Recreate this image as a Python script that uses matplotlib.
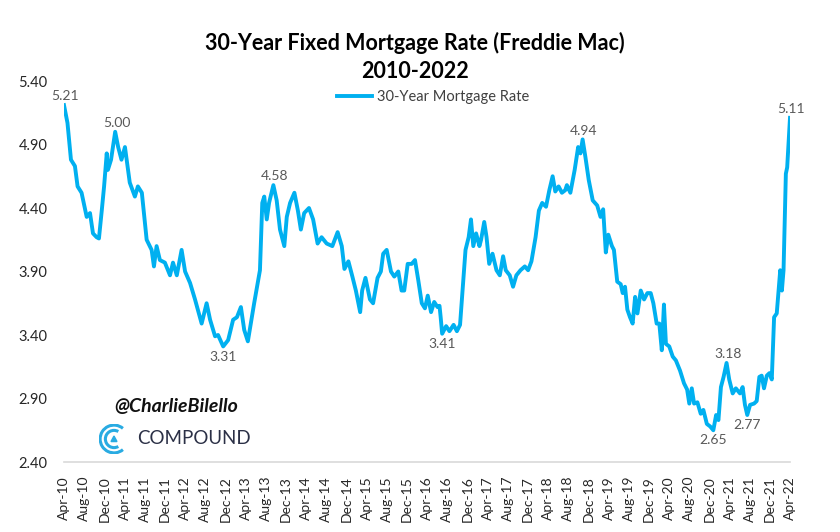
import matplotlib
matplotlib.use("Agg")
import matplotlib.pyplot as plt
import matplotlib.dates as mdates
from matplotlib.patches import Arc, Polygon
import pandas as pd

# weekly-ish readings of the Freddie Mac 30y fixed rate
dates = [
    "2010-04-01", "2010-04-22", "2010-05-13", "2010-06-06", "2010-06-22", "2010-07-16",
    "2010-08-16", "2010-09-05", "2010-09-23", "2010-10-15", "2010-10-29", "2010-11-15",
    "2010-11-29", "2010-12-15", "2010-12-22", "2011-01-10", "2011-02-04", "2011-02-22",
    "2011-03-14", "2011-04-04", "2011-05-03", "2011-06-03", "2011-06-21", "2011-07-15",
    "2011-08-13", "2011-09-12", "2011-09-26", "2011-10-12", "2011-11-01", "2011-12-01",
    "2012-01-01", "2012-01-19", "2012-02-11", "2012-03-11", "2012-04-01", "2012-05-01",
    "2012-05-31", "2012-07-10", "2012-08-09", "2012-08-30", "2012-09-29", "2012-10-17",
    "2012-11-17", "2012-12-17", "2013-01-16", "2013-02-08", "2013-03-04", "2013-03-24",
    "2013-04-15", "2013-05-23", "2013-06-27", "2013-07-11", "2013-07-23", "2013-08-07",
    "2013-08-21", "2013-09-16", "2013-10-06", "2013-10-26", "2013-11-21", "2013-12-06",
    "2013-12-26", "2014-01-21", "2014-02-11", "2014-03-01", "2014-03-21", "2014-04-19",
    "2014-05-14", "2014-06-10", "2014-07-04", "2014-08-04", "2014-09-07", "2014-10-09",
    "2014-11-03", "2014-11-19", "2014-12-13", "2015-01-06", "2015-01-27", "2015-02-22",
    "2015-03-06", "2015-03-26", "2015-04-22", "2015-05-11", "2015-06-07", "2015-06-27",
    "2015-07-11", "2015-08-01", "2015-08-27", "2015-09-16", "2015-10-10", "2015-10-30",
    "2015-11-15", "2015-12-06", "2015-12-30", "2016-01-19", "2016-02-08", "2016-02-29",
    "2016-03-19", "2016-04-05", "2016-04-25", "2016-05-14", "2016-06-03", "2016-06-15",
    "2016-06-22", "2016-07-01", "2016-07-25", "2016-08-14", "2016-09-08", "2016-09-28",
    "2016-10-17", "2016-11-03", "2016-11-19", "2016-12-08", "2016-12-22", "2017-01-05",
    "2017-01-22", "2017-02-11", "2017-02-21", "2017-03-12", "2017-03-26", "2017-04-11",
    "2017-05-01", "2017-05-25", "2017-06-14", "2017-07-04", "2017-07-20", "2017-08-13",
    "2017-09-02", "2017-09-22", "2017-10-17", "2017-11-12", "2017-12-02", "2017-12-22",
    "2018-01-16", "2018-02-05", "2018-02-25", "2018-03-20", "2018-04-09", "2018-04-29",
    "2018-05-15", "2018-06-04", "2018-06-24", "2018-07-14", "2018-07-24", "2018-08-14",
    "2018-09-09", "2018-09-30", "2018-10-14", "2018-10-27", "2018-11-13", "2018-12-03",
    "2018-12-27", "2019-01-23", "2019-02-12", "2019-02-28", "2019-03-16", "2019-03-31",
    "2019-04-22", "2019-05-04", "2019-05-24", "2019-06-14", "2019-06-26", "2019-07-10",
    "2019-07-24", "2019-08-09", "2019-08-25", "2019-09-09", "2019-09-23", "2019-10-13",
    "2019-11-02", "2019-11-22", "2019-12-12", "2019-12-28", "2020-01-17", "2020-02-02",
    "2020-02-17", "2020-03-01", "2020-03-13", "2020-04-02", "2020-04-23", "2020-05-12",
    "2020-06-06", "2020-06-30", "2020-07-19", "2020-08-01", "2020-08-16", "2020-08-30",
    "2020-09-19", "2020-10-09", "2020-10-25", "2020-11-15", "2020-12-05", "2020-12-24",
    "2021-01-10", "2021-01-24", "2021-02-08", "2021-02-24", "2021-03-14", "2021-03-30",
    "2021-04-20", "2021-05-09", "2021-06-03", "2021-06-19", "2021-07-03", "2021-07-17",
    "2021-08-03", "2021-08-27", "2021-09-12", "2021-09-28", "2021-10-12", "2021-10-26",
    "2021-11-12", "2021-11-28", "2021-12-12", "2021-12-26", "2022-01-11", "2022-02-01",
    "2022-02-11", "2022-02-21", "2022-03-07", "2022-03-15", "2022-04-01",
]
rates = [
    5.21, 5.07, 4.78, 4.73, 4.57, 4.52,
    4.33, 4.36, 4.20, 4.17, 4.16, 4.38,
    4.57, 4.83, 4.70, 4.78, 5.00, 4.88,
    4.78, 4.88, 4.60, 4.49, 4.57, 4.52,
    4.15, 4.07, 3.94, 4.10, 3.99, 3.97,
    3.87, 3.97, 3.87, 4.07, 3.90, 3.81,
    3.68, 3.49, 3.65, 3.52, 3.39, 3.40,
    3.31, 3.36, 3.52, 3.54, 3.62, 3.44,
    3.35, 3.65, 3.91, 4.44, 4.49, 4.31,
    4.44, 4.58, 4.46, 4.23, 4.10, 4.33,
    4.44, 4.52, 4.38, 4.23, 4.36, 4.40,
    4.31, 4.12, 4.17, 4.12, 4.10, 4.21,
    4.10, 3.92, 3.98, 3.86, 3.75, 3.58,
    3.75, 3.85, 3.68, 3.65, 3.85, 3.90,
    4.04, 4.07, 3.90, 3.86, 3.90, 3.75,
    3.75, 3.96, 3.96, 3.99, 3.83, 3.65,
    3.61, 3.71, 3.58, 3.66, 3.62, 3.63,
    3.54, 3.41, 3.47, 3.43, 3.48, 3.43,
    3.48, 3.78, 4.07, 4.17, 4.31, 4.10,
    4.20, 4.10, 4.15, 4.29, 4.17, 3.96,
    4.04, 3.91, 3.87, 4.02, 3.91, 3.87,
    3.78, 3.87, 3.91, 3.94, 3.91, 3.98,
    4.17, 4.38, 4.44, 4.41, 4.54, 4.65,
    4.53, 4.57, 4.52, 4.54, 4.58, 4.52,
    4.70, 4.88, 4.83, 4.94, 4.80, 4.62,
    4.46, 4.42, 4.33, 4.39, 4.05, 4.19,
    4.10, 4.07, 3.82, 3.80, 3.73, 3.78,
    3.60, 3.54, 3.49, 3.70, 3.57, 3.75,
    3.68, 3.73, 3.73, 3.65, 3.49, 3.49,
    3.28, 3.64, 3.33, 3.31, 3.23, 3.20,
    3.12, 3.02, 2.97, 2.86, 2.98, 2.86,
    2.87, 2.78, 2.81, 2.70, 2.68, 2.65,
    2.77, 2.73, 2.99, 3.07, 3.18, 3.05,
    2.94, 2.98, 2.94, 2.99, 2.85, 2.77,
    2.85, 2.86, 2.88, 3.07, 3.08, 2.98,
    3.08, 3.10, 3.05, 3.54, 3.57, 3.91,
    3.75, 3.91, 4.67, 4.72, 5.11,
]

# labelled highs/lows: date of the point and where the label sits
label_dates = ["2010-04-01", "2011-02-04", "2013-09-16", "2012-11-17", "2016-07-01",
               "2018-10-27", "2020-12-24", "2021-03-14", "2021-07-17", "2022-04-01"]
label_side = ["above", "above", "above", "below", "below",
              "above", "below", "above", "below", "above"]

title = "30-Year Fixed Mortgage Rate (Freddie Mac)\n2010-2022"
series_name = "30-Year Mortgage Rate"
yticks = [2.40, 2.90, 3.40, 3.90, 4.40, 4.90, 5.40]

blue = "#00B0F0"
plt.rcParams["font.family"] = ["Lato", "DejaVu Sans"]

df = pd.DataFrame({"date": pd.to_datetime(dates), "rate": rates})

fig = plt.figure(figsize=(8.4, 5.32), dpi=100)
ax = fig.add_axes([64 / 840, 1 - 462 / 532, 726 / 840, 381 / 532])

ax.plot(df["date"], df["rate"], color=blue, lw=2.8, solid_joinstyle="round",
        label=series_name)

for d, side in zip(label_dates, label_side):
    v = df.loc[df["date"] == pd.Timestamp(d), "rate"].iloc[0]
    if side == "above":
        ax.annotate(f"{v:.2f}", (pd.Timestamp(d), v), xytext=(1, 2),
                    textcoords="offset points", ha="center", va="bottom",
                    fontsize=10, color="#595959")
    else:
        ax.annotate(f"{v:.2f}", (pd.Timestamp(d), v), xytext=(0, -3),
                    textcoords="offset points", ha="center", va="top",
                    fontsize=10, color="#595959")

ax.set_ylim(2.40, 5.40)
ax.set_yticks(yticks)
ax.set_yticklabels([f"{t:.2f}" for t in yticks])
ax.set_xlim(pd.Timestamp("2010-04-01"), pd.Timestamp("2022-04-01"))
ax.set_xticks(pd.date_range("2010-04-01", "2022-04-01", freq="4MS"))
ax.xaxis.set_major_formatter(mdates.DateFormatter("%b-%y"))
ax.tick_params(axis="x", rotation=90, length=0, pad=10, labelsize=10, labelcolor="#262626")
ax.tick_params(axis="y", length=0, pad=12, labelsize=10.5, labelcolor="#262626")

for s in ["top", "right", "left"]:
    ax.spines[s].set_visible(False)
ax.spines["bottom"].set_color("#d9d9d9")
ax.spines["bottom"].set_linewidth(1.2)

fig.text(415 / 840, 1 - 57 / 532, title, ha="center", va="center", fontsize=15.5,
         fontweight="bold", linespacing=1.4)

ax.legend(loc="center", bbox_to_anchor=((433 - 64) / 726, (462 - 97) / 381),
          frameon=False, fontsize=10.5, handlelength=2.4, handletextpad=0.3,
          borderpad=0, labelcolor="#404040")

# watermark
fig.text(176 / 840, 1 - 407 / 532, "@CharlieBilello", ha="center", va="center",
         fontsize=14, fontweight="bold", style="italic", color="#111111")
fig.text(137 / 840, 1 - 439 / 532, "COMPOUND", ha="left", va="center",
         fontsize=13.5, color="#2b3046")
logo = fig.add_axes([99 / 840, 1 - 454 / 532, 30 / 840, 30 / 532])
logo.set_xlim(-1, 1)
logo.set_ylim(-1, 1)
logo.set_aspect("equal")
logo.axis("off")
logo.add_patch(Arc((0, 0), 1.85, 1.85, theta1=50, theta2=310, lw=2.2, color="#29abe2"))
logo.add_patch(Arc((0, 0), 1.15, 1.15, theta1=60, theta2=300, lw=2.2, color="#29abe2"))
logo.add_patch(Polygon([[-0.2, -0.17], [0.2, -0.17], [0.0, 0.2]], color="#29abe2"))

fig.savefig("out.png", dpi=100)
